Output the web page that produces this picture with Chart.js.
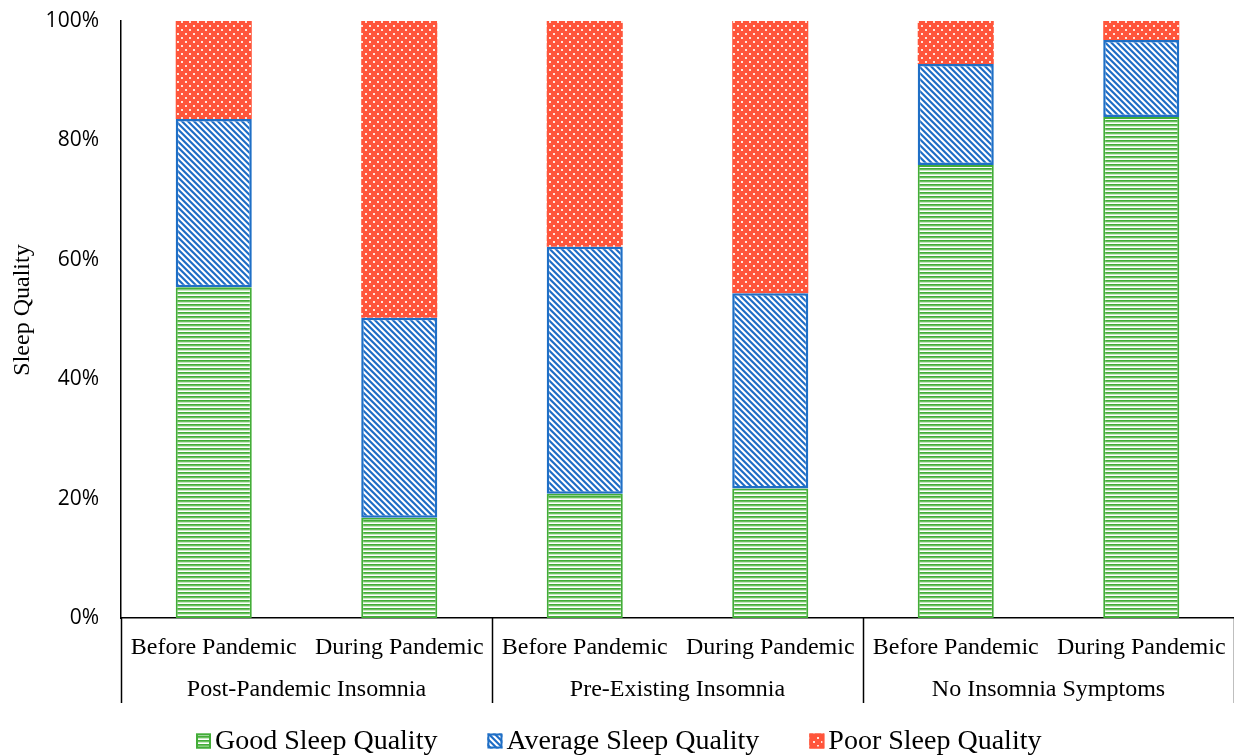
<!DOCTYPE html>
<html>
<head>
<meta charset="utf-8">
<script src="https://cdn.jsdelivr.net/npm/chart.js@4"></script>
<style>
  html, body { margin: 0; padding: 0; background: #fff; }
  #wrap { width: 1234px; height: 756px; }
</style>
</head>
<body>
<div id="wrap"><canvas id="c" width="1234" height="756"></canvas></div>
<script>
// Sub-categories (one bar each) and the groups they belong to
const periods = ['Before Pandemic', 'During Pandemic', 'Before Pandemic', 'During Pandemic', 'Before Pandemic', 'During Pandemic'];
const groups = ['Post-Pandemic Insomnia', 'Pre-Existing Insomnia', 'No Insomnia Symptoms'];

// Share of respondents (%) per sleep-quality level
const goodSleep = [55.4, 16.8, 20.8, 21.7, 75.9, 83.9];
const averageSleep = [28.2, 33.5, 41.4, 32.7, 16.9, 12.9];
const poorSleep = [16.4, 49.7, 37.8, 45.6, 7.2, 3.2];

const yTicks = [0, 20, 40, 60, 80, 100];
const yTitle = 'Sleep Quality';

const SERIF = '"Liberation Serif", "Times New Roman", serif';
const SANS = '"Open Sans", "Noto Sans", sans-serif';

// Fill patterns
function makePattern(size, draw) {
  const cv = document.createElement('canvas');
  cv.width = size; cv.height = size;
  const g = cv.getContext('2d');
  draw(g, size);
  return g.createPattern(cv, 'repeat');
}

const GREEN = '#43ad38';
const BLUE = '#1f6fc6';
const RED = '#ff553b';

const greenPattern = makePattern(4, (g, s) => {
  g.fillStyle = '#ffffff'; g.fillRect(0, 0, s, s);
  g.fillStyle = GREEN; g.fillRect(0, 0, s, 1);
  g.fillStyle = '#6cc060'; g.fillRect(0, 1, s, 1);
  g.fillStyle = '#c8e9c2'; g.fillRect(0, 2, s, 1);
});

const bluePattern = makePattern(6, (g, s) => {
  g.fillStyle = '#ffffff'; g.fillRect(0, 0, s, s);
  for (let y = 0; y < s; y++) {
    for (let x = 0; x < s; x++) {
      const d = ((x - y) % s + s) % s;
      if (d === 0 || d === 1) { g.fillStyle = BLUE; g.fillRect(x, y, 1, 1); }
      else if (d === 2) { g.fillStyle = '#5f93d5'; g.fillRect(x, y, 1, 1); }
      else if (d === 5) { g.fillStyle = '#b5cdee'; g.fillRect(x, y, 1, 1); }
    }
  }
});

const redPattern = makePattern(8, (g, s) => {
  g.fillStyle = RED; g.fillRect(0, 0, s, s);
  g.fillStyle = '#ffe4dc';
  g.fillRect(1, 1, 2, 2);
  g.fillRect(5, 5, 2, 2);
});

// Group labels and separators beneath the sub-category labels, plus the y title
const groupAxisPlugin = {
  id: 'groupAxis',
  afterDraw(chart) {
    const ctx = chart.ctx;
    const x = chart.scales.x;
    const area = chart.chartArea;
    const top = area.bottom;
    const bottom = x.bottom;
    const per = periods.length / groups.length;
    ctx.save();
    ctx.strokeStyle = '#000';
    ctx.lineWidth = 1.5;
    const edges = [];
    for (let gi = 0; gi <= groups.length; gi++) {
      let px;
      if (gi === 0) px = area.left;
      else if (gi === groups.length) px = area.right;
      else px = (x.getPixelForValue(gi * per - 1) + x.getPixelForValue(gi * per)) / 2;
      edges.push(px);
      ctx.beginPath();
      ctx.moveTo(Math.round(px) + 0.5, top);
      ctx.lineTo(Math.round(px) + 0.5, bottom);
      ctx.stroke();
    }
    ctx.fillStyle = '#000';
    ctx.font = '24px ' + SERIF;
    ctx.textAlign = 'center';
    ctx.textBaseline = 'middle';
    groups.forEach((name, gi) => {
      ctx.fillText(name, (edges[gi] + edges[gi + 1]) / 2, top + 72);
    });

    // vertical axis title
    ctx.translate(23, 310);
    ctx.rotate(-Math.PI / 2);
    ctx.font = '24px ' + SERIF;
    ctx.fillText(yTitle, 0, 0);
    ctx.restore();
  }
};

// Legend row along the bottom edge
const legendRowPlugin = {
  id: 'legendRow',
  afterDraw(chart) {
    const ctx = chart.ctx;
    const box = 15, gapText = 4, gapItem = 50;
    ctx.save();
    ctx.font = '28px ' + SERIF;
    const items = chart.data.datasets.map(ds => ({
      text: ds.label, fill: ds.backgroundColor, stroke: ds.borderColor,
      w: ctx.measureText(ds.label).width
    }));
    const total = items.reduce((s, it) => s + box + gapText + it.w, 0) + gapItem * (items.length - 1);
    let cx = Math.round((chart.width - total) / 2) + 2;
    const cy = 741;
    ctx.textAlign = 'left';
    ctx.textBaseline = 'middle';
    items.forEach(it => {
      ctx.fillStyle = it.fill;
      ctx.fillRect(cx, cy - box / 2, box, box);
      ctx.strokeStyle = it.stroke;
      ctx.lineWidth = 2;
      ctx.strokeRect(cx + 1, cy - box / 2 + 1, box - 2, box - 2);
      ctx.fillStyle = '#000';
      ctx.fillText(it.text, cx + box + gapText, cy + 1);
      cx += box + gapText + it.w + gapItem;
    });
    ctx.restore();
  }
};

const ctx = document.getElementById('c').getContext('2d');
new Chart(ctx, {
  type: 'bar',
  data: {
    labels: periods,
    datasets: [
      { label: 'Good Sleep Quality', data: goodSleep, backgroundColor: greenPattern, borderColor: GREEN, borderWidth: 2, borderSkipped: false },
      { label: 'Average Sleep Quality', data: averageSleep, backgroundColor: bluePattern, borderColor: BLUE, borderWidth: 2.5, borderSkipped: false },
      { label: 'Poor Sleep Quality', data: poorSleep, backgroundColor: redPattern, borderColor: RED, borderWidth: 0 }
    ]
  },
  options: {
    responsive: false,
    animation: false,
    maintainAspectRatio: false,
    layout: { padding: { top: 21, right: 0, bottom: 53, left: 0 } },
    datasets: { bar: { barPercentage: 0.41, categoryPercentage: 1 } },
    scales: {
      x: {
        stacked: true,
        grid: { display: false, drawTicks: false },
        border: { color: '#000', width: 1.5 },
        ticks: { color: '#000', font: { family: SERIF, size: 24 }, padding: 15, maxRotation: 0, autoSkip: false },
        afterFit(scale) {
          scale.height = 85;
          scale.paddingLeft = 0; scale.paddingRight = 0;
        }
      },
      y: {
        stacked: true,
        min: 0, max: 100,
        afterBuildTicks(scale) { scale.ticks = yTicks.map(v => ({ value: v })); },
        grid: { display: false, drawTicks: false },
        border: { color: '#000', width: 1.5 },
        ticks: { color: '#000', font: { family: SANS, size: 21 }, padding: 22, callback: v => v + '%' },
        afterFit(scale) {
          scale.width = 121;
          scale.paddingTop = 0; scale.paddingBottom = 0;
        }
      }
    },
    plugins: {
      legend: { display: false },
      tooltip: { enabled: false }
    }
  },
  plugins: [groupAxisPlugin, legendRowPlugin]
});
</script>
</body>
</html>
